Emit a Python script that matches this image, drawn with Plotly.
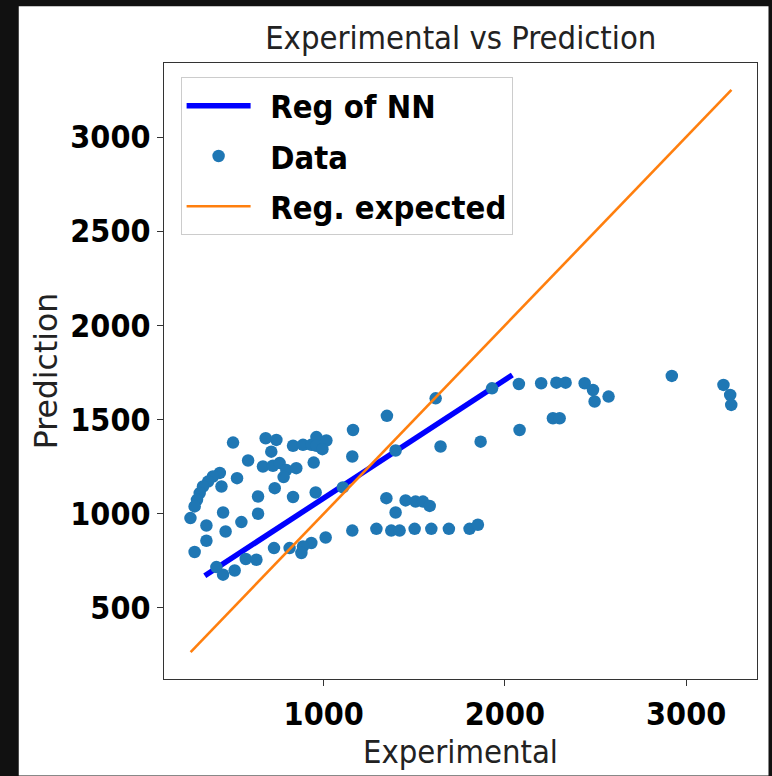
import plotly.graph_objects as go

# ---- data ----
exp_data = [1929, 2077, 2200, 2284, 2335, 2440, 2486, 2495, 2572, 2265, 2302, 2921, 3206, 3243, 3249,
            1618, 1349, 1162, 2081, 1645, 1866, 1397, 1158,
            500, 680, 739, 831, 886, 932, 960, 960, 1015, 993, 583, 711, 665, 720, 757, 794, 849, 945,
            779, 730, 522, 427, 389, 362, 334, 316, 301, 288, 265, 436, 445, 353, 353, 288, 459, 546,
            638, 638, 831, 956, 1106, 1346, 1397, 1452, 1507, 1548, 1585, 1158, 1291, 1373, 1419,
            1502, 1594, 1691, 1805, 1851, 1011, 932, 886, 877, 812, 726, 570, 629, 408, 445, 509]
pred_data = [1666, 1689, 1693, 1696, 1696, 1693, 1657, 1596, 1622, 1507, 1507, 1732, 1684, 1631, 1578,
             1613, 1520, 1445, 1445, 1357, 1383, 1336, 1304,
             1378, 1401, 1392, 1361, 1366, 1366, 1407, 1361, 1389, 1343, 1283, 1330, 1251, 1255, 1269, 1233, 1242, 1272,
             1195, 1136, 1189, 1217, 1198, 1171, 1145, 1110, 1074, 1039, 977, 1145, 1007, 938, 857, 797, 906, 956,
             1000, 1092, 1089, 1113, 1140, 1083, 1007, 1071, 1065, 1065, 1042, 911, 920, 911, 911,
             920, 920, 920, 920, 942, 874, 845, 827, 792, 818, 818, 760, 756, 717, 677, 699]

reg_nn_x = [344, 2041]
reg_nn_y = [671, 1737]

expected_x = [266, 3250]
expected_y = [266, 3250]

x_ticks = [1000, 2000, 3000]
y_ticks = [500, 1000, 1500, 2000, 2500, 3000]

FONT = "DejaVu Sans Condensed, DejaVu Sans, sans-serif"
FONT_V = "DejaVu Sans, sans-serif"
SP = "\u2002"

fig = go.Figure()
fig.add_trace(go.Scatter(x=reg_nn_x, y=reg_nn_y, mode="lines", name=SP + "<b>Reg of NN</b>",
                         line=dict(color="#0000ff", width=5.5), legendgroup="a"))
fig.add_trace(go.Scatter(x=exp_data, y=pred_data, mode="markers", name=SP + "<b>Data</b>",
                         marker=dict(color="#1f77b4", size=12.5), legendgroup="b"))
fig.add_trace(go.Scatter(x=expected_x, y=expected_y, mode="lines", name=SP + "<b>Reg. expected</b>",
                         line=dict(color="#ff7f0e", width=2.6), legendgroup="c"))

axis_common = dict(showgrid=False, zeroline=False, showline=True, linecolor="#333333", linewidth=1.3,
                   mirror=True, ticks="outside", ticklen=6, tickwidth=1.2, tickcolor="#333333",
                   tickfont=dict(family=FONT, size=32, color="#000000", weight="bold"))

fig.update_layout(
    width=772, height=776,
    margin=dict(l=164, r=15, t=63, b=97),
    paper_bgcolor="#111111", plot_bgcolor="#ffffff",
    title=dict(text="Experimental vs Prediction", x=(164 + 757.5) / 2 / 772, xanchor="center",
               y=1 - 38 / 776, yanchor="middle", yref="container",
               font=dict(family=FONT, size=32.5, color="#222222")),
    xaxis=dict(range=[119, 3391], tickvals=x_ticks, ticktext=[str(v) for v in x_ticks],
               title=dict(text="Experimental", font=dict(family=FONT, size=32.5, color="#222222"), standoff=5),
               **axis_common),
    yaxis=dict(range=[123, 3393], tickvals=y_ticks, ticktext=[str(v) for v in y_ticks],
               title=dict(text="Prediction", font=dict(family=FONT_V, size=31.5, color="#222222"), standoff=3),
               **axis_common),
    legend=dict(x=0.028, y=0.977, xanchor="left", yanchor="top", bgcolor="#ffffff",
                bordercolor="#cccccc", borderwidth=1, itemwidth=64, tracegroupgap=5,
                font=dict(family=FONT, size=32.5, color="#000000")),
    shapes=[dict(type="rect", xref="paper", yref="paper", layer="below",
                 x0=(19 - 164.3) / 593.2, x1=(769 - 164.3) / 593.2,
                 y0=(679.3 - 776) / 616.6, y1=(679.3 - 6) / 616.6,
                 fillcolor="#ffffff", line=dict(width=0))],
)

fig.write_html("out.html")
